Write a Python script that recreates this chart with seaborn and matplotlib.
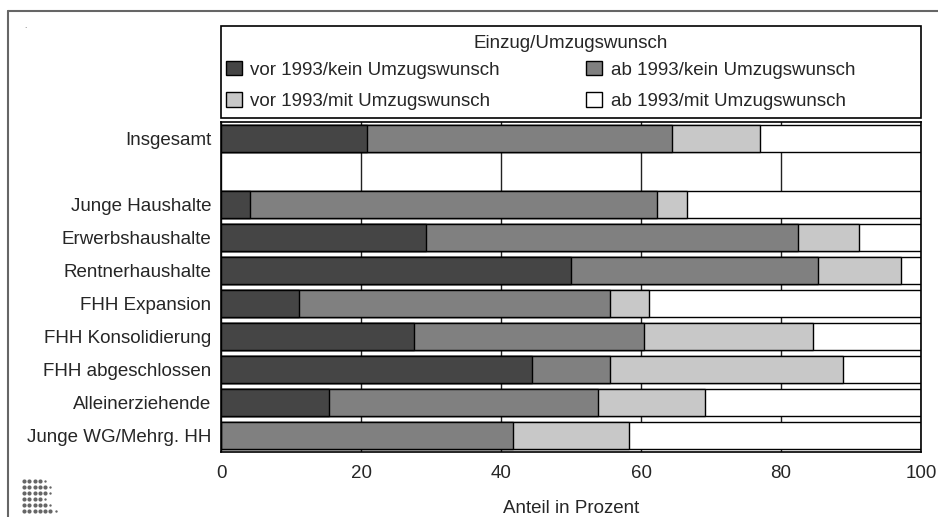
import numpy as np
import pandas as pd
import seaborn as sns
import matplotlib.pyplot as plt
from matplotlib.patches import Patch, Rectangle
from matplotlib.lines import Line2D

sns.set_theme(style="white")
plt.rcParams["font.family"] = ["Liberation Sans", "DejaVu Sans"]

groups = ["Insgesamt", "Junge Haushalte", "Erwerbshaushalte", "Rentnerhaushalte",
          "FHH Expansion", "FHH Konsolidierung", "FHH abgeschlossen",
          "Alleinerziehende", "Junge WG/Mehrg. HH"]
order = ["Insgesamt", " ", "Junge Haushalte", "Erwerbshaushalte", "Rentnerhaushalte",
         "FHH Expansion", "FHH Konsolidierung", "FHH abgeschlossen",
         "Alleinerziehende", "Junge WG/Mehrg. HH"]

# Anteile in Prozent je Segment
vor_kein = [20.8, 4.2, 29.3, 50.0, 11.1, 27.6, 44.4, 15.4, 0.0]
ab_kein = [43.6, 58.1, 53.1, 35.3, 44.5, 32.8, 11.2, 38.4, 41.7]
vor_mit = [12.6, 4.2, 8.8, 11.8, 5.5, 24.1, 33.3, 15.4, 16.6]
ab_mit = [23.0, 33.5, 8.8, 2.9, 38.9, 15.5, 11.1, 30.8, 41.7]

labels = ["vor 1993/kein Umzugswunsch", "ab 1993/kein Umzugswunsch",
          "vor 1993/mit Umzugswunsch", "ab 1993/mit Umzugswunsch"]
colors = ["#454545", "#808080", "#c8c8c8", "#ffffff"]

df = pd.DataFrame({"gruppe": groups, "s1": vor_kein, "s2": ab_kein,
                   "s3": vor_mit, "s4": ab_mit})
cum = df[["s1", "s2", "s3", "s4"]].cumsum(axis=1)
cum["gruppe"] = df["gruppe"]
cum["s4"] = 100.0

FS = 13.5
fig = plt.figure(figsize=(9.38, 5.17), dpi=100)
ax = fig.add_axes([221 / 938, 1 - 452 / 517, 700 / 938, 330 / 517])

ax.set_axisbelow(True)
ax.grid(axis="x", color="#222222", linewidth=1.0)
for col, c in zip(["s4", "s3", "s2", "s1"], colors[::-1]):
    sns.barplot(data=cum, x=col, y="gruppe", order=order, color=c,
                saturation=1, edgecolor="black", linewidth=1.0,
                width=0.82, ax=ax)

ax.set_xlim(0, 100)
ax.set_ylim(9.5, -0.5)
ax.set_xticks([0, 20, 40, 60, 80, 100])
ax.tick_params(axis="x", direction="in", length=3, color="black",
               labelsize=FS, pad=9)
ax.tick_params(axis="y", length=0, labelsize=FS, pad=7)
ax.set_ylabel("")
ax.set_xlabel("Anteil in Prozent", fontsize=FS, labelpad=13)
for s in ax.spines.values():
    s.set_color("black")
    s.set_linewidth(1.2)

# Legende: zeilenweise Reihenfolge
handles = [Patch(facecolor=c, edgecolor="black", linewidth=1.0) for c in colors]
idx = [0, 2, 1, 3]
leg = fig.legend([handles[i] for i in idx], [labels[i] for i in idx], ncol=2,
                 loc="upper left", bbox_to_anchor=(226 / 938, 1 - 61 / 517),
                 fontsize=FS, frameon=False,
                 handlelength=0.85, handleheight=0.8, handletextpad=0.45,
                 borderaxespad=0, borderpad=0, labelspacing=0.72,
                 columnspacing=4.6)
fig.text(571 / 938, 1 - 43 / 517, "Einzug/Umzugswunsch", fontsize=FS,
         ha="center", va="center")
fig.add_artist(Rectangle((221 / 938, 1 - 118 / 517), 700 / 938, 92 / 517,
                         transform=fig.transFigure, fill=False,
                         edgecolor="black", linewidth=1.2))

# Rahmen und Logo
fig.add_artist(Line2D([8 / 938, 8 / 938], [0, 1 - 11 / 517], color="#666666", lw=1.5))
fig.add_artist(Line2D([8 / 938, 1], [1 - 11 / 517, 1 - 11 / 517], color="#666666", lw=1.5))
fig.text(24 / 938, 1 - 28 / 517, ".", fontsize=6, color="#555555")

lax = fig.add_axes([21 / 938, 1 - 514 / 517, 40 / 938, 36 / 517])
lax.set_axis_off()
rows = [4, 5, 5, 4, 5, 6]
for r, n in enumerate(rows):
    lax.scatter(range(n), [r] * n, s=9, color="#666666", linewidths=0)
    lax.scatter([n], [r], s=3, color="#666666", linewidths=0)
lax.set_xlim(-0.6, 7.0)
lax.set_ylim(5.6, -0.6)

fig.savefig("out.png", dpi=100)
